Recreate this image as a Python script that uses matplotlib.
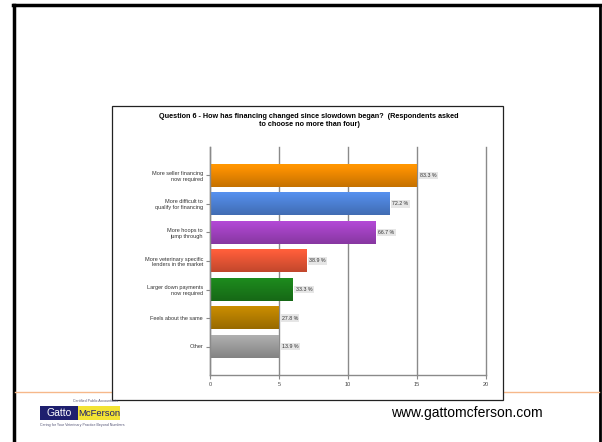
import numpy as np
import matplotlib
matplotlib.use("Agg")
import matplotlib.pyplot as plt
from matplotlib.patches import Rectangle
from matplotlib.lines import Line2D
import matplotlib.colors as mcolors

plt.rcParams['font.family'] = ['Liberation Sans', 'DejaVu Sans']

categories = ["More seller financing\nnow required",
              "More difficult to\nqualify for financing",
              "More hoops to\njump through",
              "More veterinary specific\nlenders in the market",
              "Larger down payments\nnow required",
              "Feels about the same",
              "Other"]
counts = [15, 13, 12, 7, 6, 5, 5]
pct_labels = ["83.3 %", "72.2 %", "66.7 %", "38.9 %", "33.3 %", "27.8 %", "13.9 %"]
bar_colors = ["#F08A00", "#4F84DA", "#A443C4", "#EC5736", "#1B7F1B", "#B98100", "#A0A0A0"]
xticks = [0, 5, 10, 15, 20]

W, H = 602, 442
fig = plt.figure(figsize=(W / 100, H / 100), dpi=100)

def px(x, y):
    return (x / W, 1 - y / H)

# slide frame
fig.add_artist(Line2D([13.5 / W, 13.5 / W], [0, 1 - 4.5 / H], color="black", lw=2.5))
fig.add_artist(Line2D([13 / W, 600 / W], [1 - 4.5 / H, 1 - 4.5 / H], color="black", lw=2.5))
fig.add_artist(Line2D([600 / W, 600 / W], [0, 1 - 4.5 / H], color="black", lw=2))
fig.add_artist(Line2D([15 / W, 599 / W], [1 - 392 / H, 1 - 392 / H], color="#F6B88A", lw=1))

# chart box
fig.add_artist(Rectangle(px(112, 400), 391 / W, 294 / H, facecolor="white",
                         edgecolor="#222222", lw=0.9, zorder=2))

fig.text(*px(309, 117), "Question 6 - How has financing changed since slowdown began?  (Respondents asked",
         ha="center", va="center", fontsize=5.2, fontweight="bold", zorder=3)
fig.text(*px(309, 125), "to choose no more than four)",
         ha="center", va="center", fontsize=5.2, fontweight="bold", zorder=3)

l, t = px(210, 147)
r, b = px(486, 375)
ax = fig.add_axes([l, b, r - l, t - b], zorder=3)
ax.patch.set_alpha(0)

ypos = np.arange(1, len(categories) + 1)
bh = 0.8
grad = np.linspace(1.1, 0.82, 64).reshape(-1, 1)
for y, v, c, lab in zip(ypos, counts, bar_colors, pct_labels):
    rgb = np.array(mcolors.to_rgb(c))
    img = np.clip(grad[:, :, None] * rgb[None, None, :], 0, 1)
    ax.imshow(img, extent=[0, v, y + bh / 2, y - bh / 2], aspect="auto", zorder=2)
    ax.text(v + 0.2, y, lab, va="center", ha="left", fontsize=3.8, color="#333333",
            bbox=dict(boxstyle="square,pad=0.25", facecolor="#E6E6E6", edgecolor="none"), zorder=4)

ax.set_xlim(0, 20)
ax.set_ylim(8, 0)
ax.set_xticks(xticks)
ax.set_xticklabels([str(x) for x in xticks], fontsize=4, color="#444444")
ax.set_yticks(ypos)
ax.set_yticklabels(categories, fontsize=4, color="#333333")
ax.grid(axis="x", color="#8A8A8A", lw=1)
for gl in ax.get_xgridlines():
    gl.set_clip_on(False)
ax.set_axisbelow(True)
for s in ["top", "right"]:
    ax.spines[s].set_visible(False)
for s in ["left", "bottom"]:
    ax.spines[s].set_color("#8A8A8A")
    ax.spines[s].set_linewidth(1)
ax.tick_params(axis="both", color="#8A8A8A", length=3, width=0.8, pad=2)

# footer
fig.add_artist(Rectangle(px(40, 420), 38 / W, 14 / H, facecolor="#1E1F6E", edgecolor="none"))
fig.add_artist(Rectangle(px(78, 420), 42 / W, 14 / H, facecolor="#F3E334", edgecolor="none"))
fig.text(*px(59, 413.5), "Gatto", ha="center", va="center", fontsize=7.5, color="white")
fig.text(*px(99, 413.5), "McFerson", ha="center", va="center", fontsize=6.8, color="#1E1F6E")
fig.text(*px(118, 401.5), "Certified Public Accountants", ha="right", va="center",
         fontsize=2.6, color="#555577")
fig.text(*px(40, 425), "Caring for Your Veterinary Practice Beyond Numbers", ha="left",
         va="center", fontsize=2.6, color="#555577")
fig.text(*px(467, 413), "www.gattomcferson.com", ha="center", va="center", fontsize=10, color="black")

fig.savefig("out.png", dpi=100)
